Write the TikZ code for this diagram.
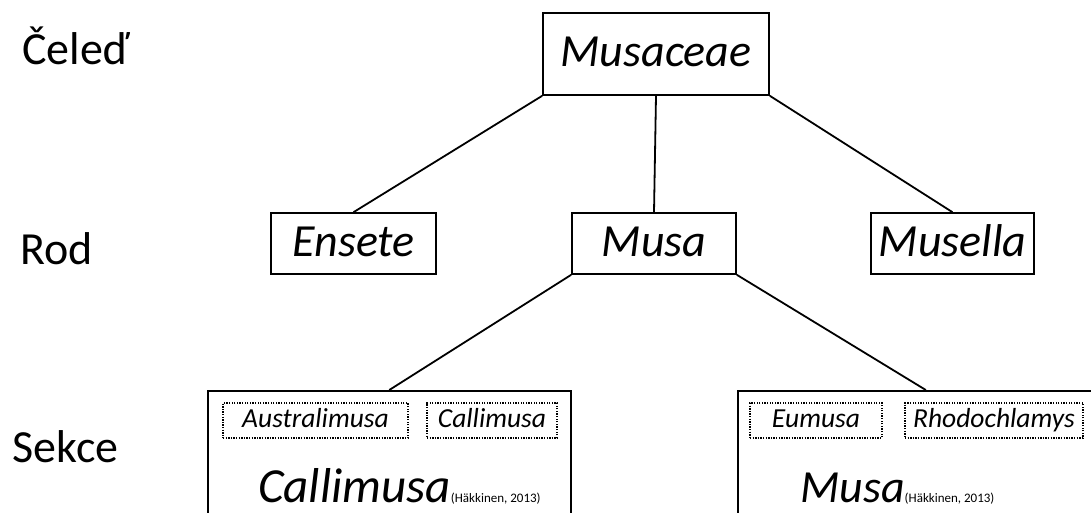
\documentclass[tikz,border=0pt]{standalone}
\usepackage{fontspec}
\setmainfont{Carlito}
\tikzset{
  taxbox/.style={draw, line width=1.6pt, inner sep=0pt, text height=33pt, text depth=8pt, font=\fontsize{46}{46}\selectfont\itshape},
  bigbox/.style={draw, line width=1.6pt, inner sep=0pt, anchor=north west, minimum height=160pt},
  secbox/.style={draw, line width=1.1pt, dash pattern=on 1.3pt off 1.3pt, inner sep=0pt, minimum height=35pt, text height=20pt, text depth=6pt, font=\fontsize{27.5}{27.5}\selectfont\itshape},
  lvl/.style={anchor=base west, inner sep=0pt, font=\fontsize{46}{46}\selectfont},
  link/.style={line width=1.8pt},
  bigtxt/.style={anchor=base west, inner sep=0pt}
}
\begin{document}
\begin{tikzpicture}[x=1pt,y=1pt]
\useasboundingbox (0,0) rectangle (1091,-513);
\clip (0,0) rectangle (1091,-513);
% level labels
\node[lvl] (l1) at (22,-65) {Čeleď};
\node[lvl] (l2) at (20,-264) {Rod};
\node[lvl] (l3) at (12,-462) {Sekce};
% family
\node[taxbox, minimum width=226pt, minimum height=82pt] (fam) at (656,-54) {Musaceae};
% genera
\node[taxbox, minimum width=165pt, minimum height=61pt] (ens) at (353.5,-243.5) {Ensete};
\node[taxbox, minimum width=164pt, minimum height=61pt] (mus) at (654,-243.5) {Musa};
\node[taxbox, minimum width=163pt, minimum height=61pt] (mul) at (952.5,-243.5) {Musella};
% sections (big boxes, open at the bottom edge)
\node[bigbox, minimum width=363pt] (lbox) at (207,-390) {};
\node[bigbox, minimum width=376pt] (rbox) at (737,-390) {};
% dotted subsection boxes
\node[secbox, minimum width=185pt] (aus) at (315.5,-420.5) {Australimusa};
\node[secbox, minimum width=130pt] (cal) at (492,-420.5) {Callimusa};
\node[secbox, minimum width=132pt] (eum) at (816,-420.5) {Eumusa};
\node[secbox, minimum width=178pt] (rho) at (994,-420.5) {Rhodochlamys};
% big section names
\node[bigtxt] (calbig) at (258,-502) {{\fontsize{49}{49}\selectfont\itshape Callimusa}{\fontsize{13}{13}\selectfont (Häkkinen, 2013)}};
\node[bigtxt] (musbig) at (800,-502) {{\fontsize{46}{46}\selectfont\itshape Musa}{\fontsize{13}{13}\selectfont (Häkkinen, 2013)}};
% connectors
\draw[link] (fam.south west) -- (ens.north);
\draw[link] (fam.south) -- (mus.north);
\draw[link] (fam.south east) -- (mul.north);
\draw[link] (mus.south west) -- (lbox.north);
\draw[link] (mus.south east) -- (rbox.north);
\end{tikzpicture}
\end{document}
